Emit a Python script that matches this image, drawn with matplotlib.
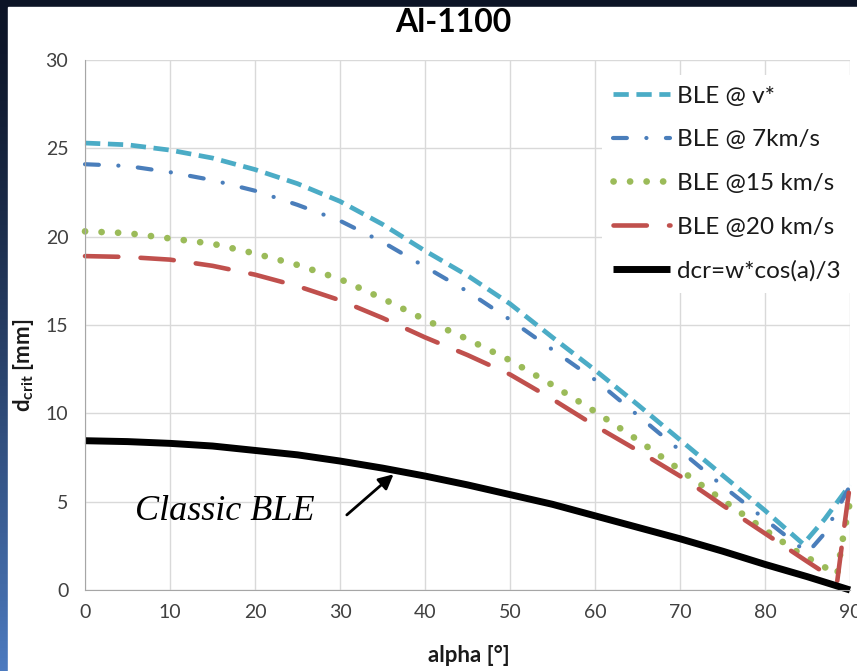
import numpy as np
import matplotlib
matplotlib.use("Agg")
import matplotlib.pyplot as plt
from matplotlib.patches import Rectangle

plt.rcParams['font.family'] = ['Lato', 'DejaVu Sans']
plt.rcParams['mathtext.fontset'] = 'custom'
plt.rcParams['mathtext.rm'] = 'Lato'
plt.rcParams['mathtext.bf'] = 'Lato:bold'
plt.rcParams['lines.scale_dashes'] = False

# critical diameter vs impact angle, Al-1100
alpha_vstar = [0, 5, 10, 15, 20, 25, 30, 35, 40, 45, 50, 55, 60, 65, 70, 75, 80, 84.5, 87, 90]
d_vstar = [25.3, 25.2, 24.9, 24.45, 23.8, 23.0, 22.0, 20.7, 19.2, 17.8, 16.2, 14.3, 12.45, 10.5, 8.5, 6.5, 4.5, 2.6, 4.0, 5.95]

alpha_7 = [0, 5, 10, 15, 20, 25, 30, 35, 40, 45, 50, 55, 60, 65, 70, 75, 80, 85, 87, 90]
d_7 = [24.1, 24.0, 23.65, 23.2, 22.6, 21.8, 20.9, 19.7, 18.3, 16.9, 15.3, 13.6, 11.9, 9.9, 7.9, 5.9, 4.0, 2.1, 3.2, 5.9]

alpha_15 = [0, 5, 10, 15, 20, 25, 30, 35, 40, 45, 50, 55, 60, 65, 70, 75, 80, 84, 88.5, 89, 90]
d_15 = [20.3, 20.2, 19.9, 19.6, 19.05, 18.4, 17.6, 16.5, 15.3, 14.2, 13.0, 11.6, 10.1, 8.5, 6.8, 5.1, 3.4, 2.1, 0.9, 2.5, 5.0]

alpha_20 = [0, 5, 10, 15, 20, 25, 30, 35, 40, 45, 50, 55, 60, 65, 70, 75, 80, 85, 88.5, 89.3, 90]
d_20 = [18.9, 18.85, 18.7, 18.35, 17.85, 17.2, 16.4, 15.4, 14.3, 13.3, 12.2, 10.8, 9.3, 7.9, 6.45, 4.8, 3.2, 1.6, 0.5, 3.5, 6.0]

alpha_classic = [0, 5, 10, 15, 20, 25, 30, 35, 40, 45, 50, 55, 60, 65, 70, 75, 80, 85, 90]
d_classic = [8.45, 8.4, 8.3, 8.15, 7.9, 7.65, 7.3, 6.9, 6.45, 5.95, 5.4, 4.85, 4.2, 3.55, 2.9, 2.2, 1.45, 0.75, 0.0]

labels = ["BLE @ v*", "BLE @ 7km/s", "BLE @15 km/s", "BLE @20 km/s", "dcr=w*cos(a)/3"]

W, H = 857, 671
fig = plt.figure(figsize=(W / 100, H / 100), dpi=100)

# slide background: dark navy to blue, white panel on top
bg = fig.add_axes([0, 0, 1, 1], zorder=-10)
t = np.linspace(0, 1, 200)[:, None]
top = np.array([0.05, 0.08, 0.15])
bot = np.array([0.30, 0.48, 0.75])
grad = top + (bot - top) * t ** 1.3
bg.imshow(grad[:, None, :].repeat(4, axis=1), aspect='auto', extent=[0, 1, 0, 1], origin='upper')
bg.add_patch(Rectangle((8 / W, 0), 1, 1 - 7 / H, color='white', transform=bg.transAxes))
bg.set_xlim(0, 1)
bg.set_ylim(0, 1)
bg.axis('off')

ax = fig.add_axes([85 / W, 81 / H, 765 / W, 530 / H])
ax.set_xlim(0, 90)
ax.set_ylim(0, 30)
ax.set_xticks(range(0, 91, 10))
ax.set_yticks(range(0, 31, 5))
ax.grid(True, color='#d9d9d9', lw=1)
ax.set_axisbelow(True)
for s in ['top', 'right']:
    ax.spines[s].set_visible(False)
for s in ['left', 'bottom']:
    ax.spines[s].set_color('#a6a6a6')
ax.tick_params(length=0, labelsize=14, colors='#404040', pad=10)
ax.tick_params(axis='y', pad=12)

ax.plot(alpha_vstar, d_vstar, color='#4bacc6', lw=3.4, dashes=(11, 5.5), label=labels[0], clip_on=False)
ax.plot(alpha_7, d_7, color='#4a7ebb', lw=3.0, dashes=(10, 14, 0.1, 14), dash_capstyle='round',
        label=labels[1], clip_on=False)
ax.plot(alpha_15, d_15, color='#9bbb59', lw=4.8, dashes=(0.1, 11.8), dash_capstyle='round',
        label=labels[2], clip_on=False)
ax.plot(alpha_20, d_20, color='#c0504d', lw=3.3, dashes=(24, 16), dash_capstyle='round',
        label=labels[3], clip_on=False)
ax.plot(alpha_classic, d_classic, color='black', lw=5, label=labels[4], clip_on=False,
        solid_capstyle='butt')

leg = ax.legend(loc='upper right', bbox_to_anchor=(1.018, 0.995), fontsize=17.5, frameon=True,
                facecolor='white', edgecolor='none', framealpha=1, fancybox=False,
                handlelength=2.35, handletextpad=0.28, labelspacing=0.93, borderpad=0.45)
leg.get_frame().set_linewidth(0)
for txt in leg.get_texts():
    txt.set_color('#1a1a1a')

ax.text(5.9, 3.95, "Classic BLE", fontsize=26, family='Liberation Serif', style='italic',
        color='black', va='baseline', ha='left')
ax.annotate("", xy=(36.3, 6.55), xytext=(30.8, 4.25),
            arrowprops=dict(arrowstyle='-|>', color='black', lw=2, mutation_scale=22,
                            shrinkA=0, shrinkB=0))

fig.text(453 / W, 1 - 22 / H, "Al-1100", ha='center', va='center', fontsize=23,
         fontweight='bold', color='black')
fig.text(469 / W, 1 - 656 / H, "alpha [°]", ha='center', va='center', fontsize=16,
         fontweight='bold', color='#1a1a1a')
fig.text(23 / W, 1 - 365 / H, r"d$_{\mathbf{crit}}$ [mm]", ha='center', va='center', fontsize=16,
         fontweight='bold', rotation=90, color='#1a1a1a')

fig.savefig("out.png", dpi=100)
